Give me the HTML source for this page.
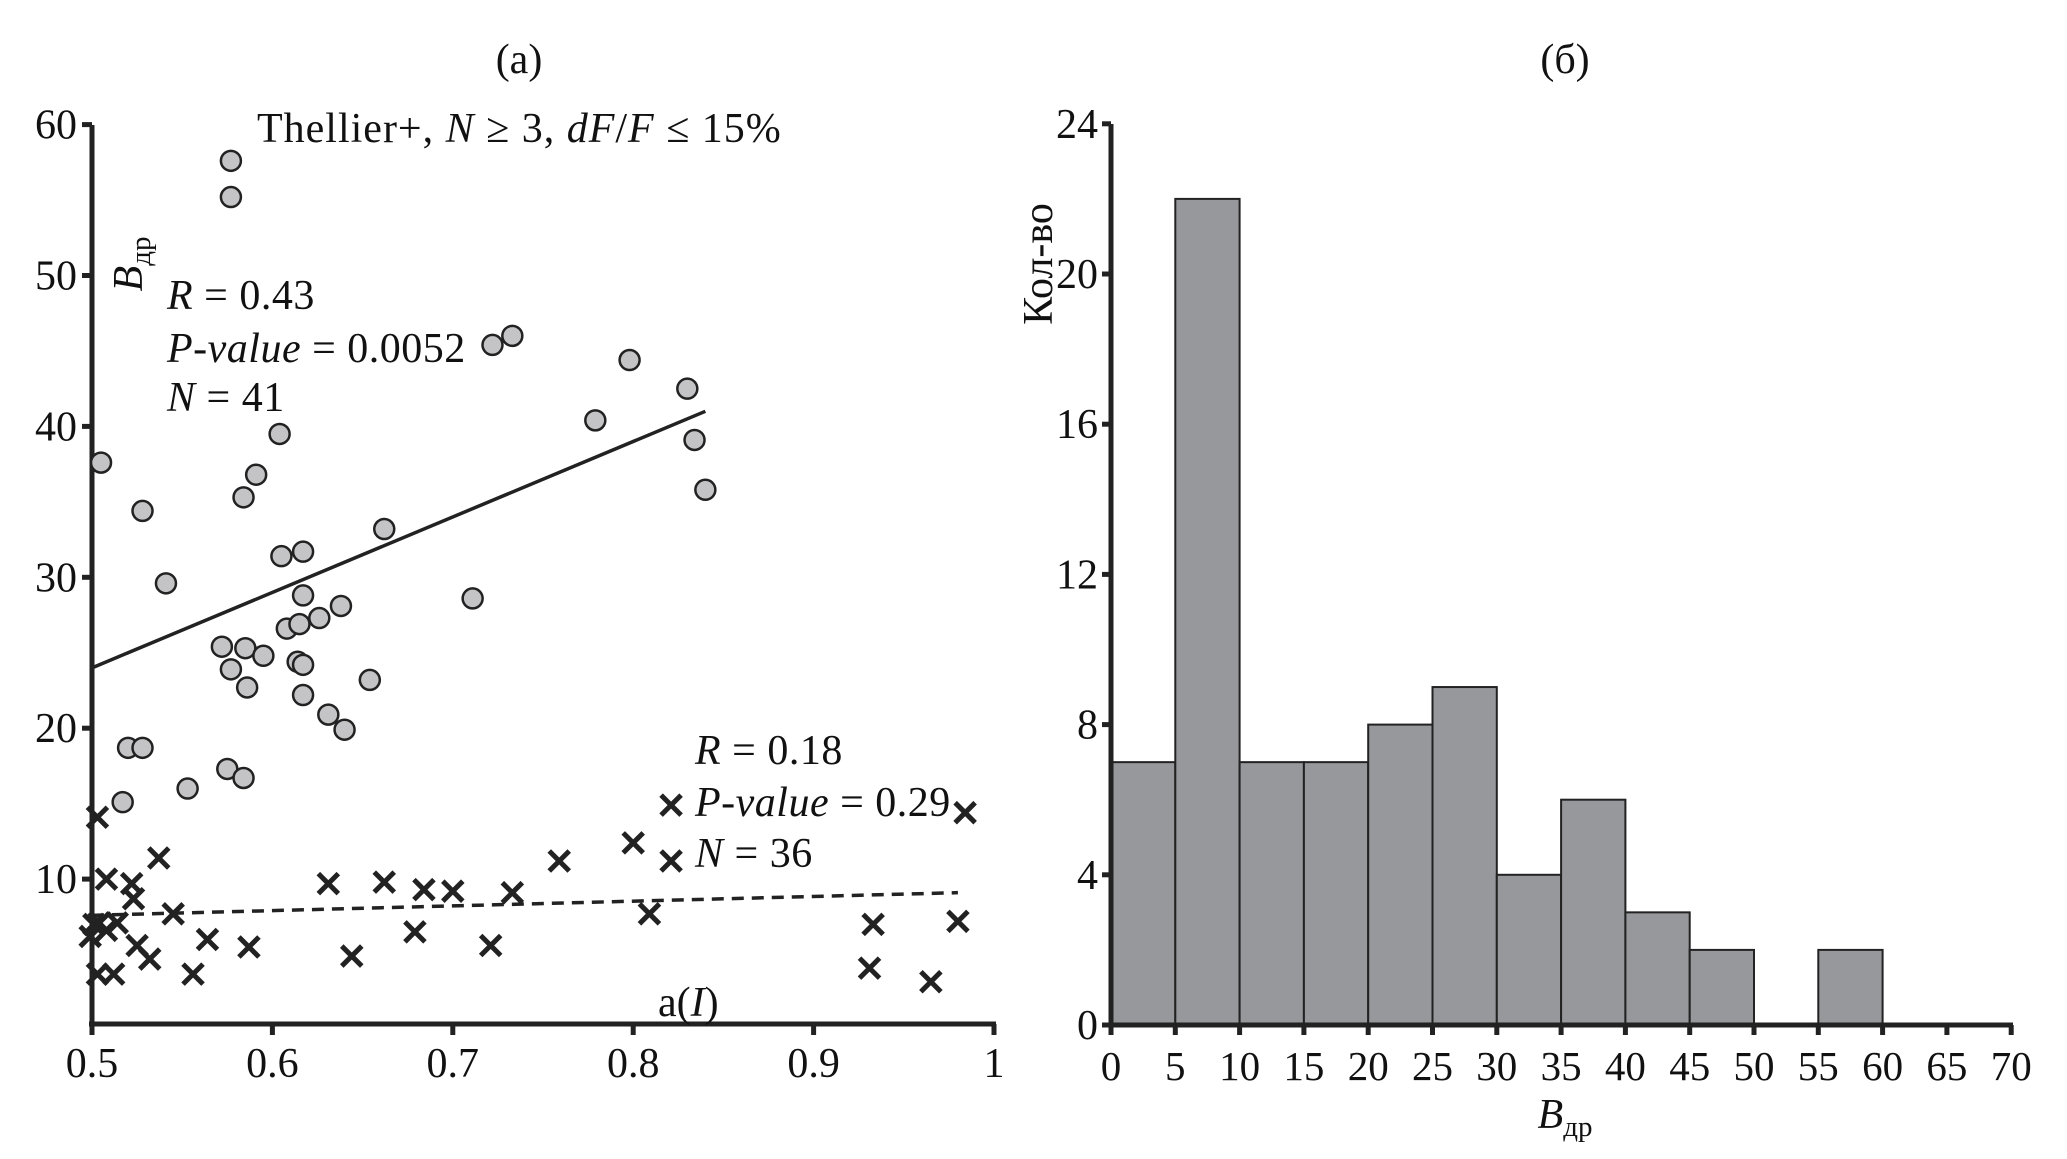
<!DOCTYPE html>
<html><head><meta charset="utf-8">
<style>
html,body{margin:0;padding:0;background:#fff;}
svg{display:block;font-family:"Liberation Serif","DejaVu Serif",serif;}
</style></head>
<body>
<svg id="chart" width="2067" height="1159" viewBox="0 0 2067 1159" xmlns="http://www.w3.org/2000/svg">
<g id="left"></g>
<g id="right"></g>
</svg>
<script>
// ---- Scatter data (panel a) ----
const circleX = [0.577,0.577,0.505,0.528,0.541,0.517,0.520,0.528,0.553,0.575,0.584,0.572,0.577,0.585,0.586,0.595,0.584,0.591,0.604,0.605,0.617,0.617,0.608,0.615,0.626,0.638,0.614,0.617,0.617,0.631,0.640,0.654,0.662,0.711,0.722,0.733,0.779,0.798,0.830,0.834,0.840];
const circleY = [57.6,55.2,37.6,34.4,29.6,15.1,18.7,18.7,16.0,17.3,16.7,25.4,23.9,25.3,22.7,24.8,35.3,36.8,39.5,31.4,31.7,28.8,26.6,26.9,27.3,28.1,24.4,24.2,22.2,20.9,19.9,23.2,33.2,28.6,45.4,46.0,40.4,44.4,42.5,39.1,35.8];
const crossX = [0.503,0.508,0.501,0.504,0.499,0.508,0.514,0.503,0.512,0.522,0.523,0.525,0.532,0.537,0.545,0.556,0.564,0.587,0.631,0.644,0.662,0.679,0.684,0.700,0.721,0.733,0.759,0.800,0.809,0.821,0.821,0.933,0.931,0.965,0.980,0.984];
const crossY = [14.1,10.0,7.0,7.1,6.2,6.6,7.1,3.7,3.7,9.7,8.7,5.6,4.7,11.4,7.7,3.7,6.0,5.5,9.7,4.9,9.8,6.5,9.3,9.2,5.6,9.1,11.2,12.4,7.7,14.9,11.2,7.0,4.1,3.2,7.2,14.4];
const solidFitX = [0.5,0.84];
const solidFitY = [24,41];
const dashFitX = [0.5,0.98];
const dashFitY = [7.6,9.1];
const leftXTicks = [0.5,0.6,0.7,0.8,0.9,1];
const leftXTickLabels = ["0.5","0.6","0.7","0.8","0.9","1"];
const leftYTicks = [10,20,30,40,50,60];
const leftYTickLabels = ["10","20","30","40","50","60"];
// ---- Histogram data (panel б) ----
const binStarts = [0,5,10,15,20,25,30,35,40,45,50,55,60,65];
const binCounts = [7,22,7,7,8,9,4,6,3,2,0,2,0,0];
const rightXTicks = [0,5,10,15,20,25,30,35,40,45,50,55,60,65,70];
const rightYTicks = [0,4,8,12,16,20,24];

const NS="http://www.w3.org/2000/svg";
function mk(parent,tag,attrs,text){const e=document.createElementNS(NS,tag);for(const k in attrs)e.setAttribute(k,attrs[k]);if(text!==undefined)e.textContent=text;parent.appendChild(e);return e;}
const L=document.getElementById('left'), R=document.getElementById('right');
const ink="#222";

const lx=v=>92+(v-0.5)*1804;
const ly=v=>1030-v*15.09;
let e;
e=mk(L,'line',{x1:92,y1:125,x2:92,y2:1027,stroke:ink,'stroke-width':5});


e=mk(L,'line',{x1:89,y1:1024,x2:996,y2:1024,stroke:ink,'stroke-width':5});


leftYTicks.forEach((v,i)=>{
  e=mk(L,'line',{x1:82,y1:ly(v),x2:92,y2:ly(v),stroke:ink,'stroke-width':5});
  
  
  e=mk(L,'text',{x:77,y:ly(v)+14,'font-size':42,'text-anchor':'end',fill:'#111'},leftYTickLabels[i]);
  
  
});
leftXTicks.forEach((v,i)=>{
  e=mk(L,'line',{x1:lx(v),y1:1024,x2:lx(v),y2:1035,stroke:ink,'stroke-width':5});
  
  
  e=mk(L,'text',{x:lx(v),y:1077,'font-size':42,'text-anchor':'middle',fill:'#111'},leftXTickLabels[i]);
  
  
});
e=mk(L,'line',{x1:lx(solidFitX[0]),y1:ly(solidFitY[0]),x2:lx(solidFitX[1]),y2:ly(solidFitY[1]),stroke:ink,'stroke-width':3.5});


e=mk(L,'line',{x1:lx(dashFitX[0]),y1:ly(dashFitY[0]),x2:lx(dashFitX[1]),y2:ly(dashFitY[1]),stroke:ink,'stroke-width':3.5,'stroke-dasharray':'12,8'});


circleX.forEach((v,i)=>{
  e=mk(L,'circle',{cx:lx(v),cy:ly(circleY[i]),r:10,fill:'#c4c4c6',stroke:'#222','stroke-width':2.5});
  
  
});
crossX.forEach((v,i)=>{
  const cx=lx(v),cy=ly(crossY[i]),s=10;
  e=mk(L,'path',{d:`M${cx-s},${cy-s}L${cx+s},${cy+s}M${cx-s},${cy+s}L${cx+s},${cy-s}`,stroke:'#222','stroke-width':5,fill:'none'});
  
  
});

const rx=v=>1111+v*12.86;
const ry=v=>1025-v*37.55;
binStarts.forEach((b,i)=>{
  if(binCounts[i]<=0) return;
  e=mk(R,'rect',{x:rx(b),y:ry(binCounts[i]),width:rx(b+5)-rx(b),height:ry(0)-ry(binCounts[i]),fill:'#97989c',stroke:'#222','stroke-width':2});
  
  
});
e=mk(R,'line',{x1:1111,y1:124,x2:1111,y2:1028,stroke:ink,'stroke-width':5});


e=mk(R,'line',{x1:1104,y1:1025,x2:2013,y2:1025,stroke:ink,'stroke-width':5});


rightYTicks.forEach(v=>{
  e=mk(R,'line',{x1:1102,y1:ry(v),x2:1111,y2:ry(v),stroke:ink,'stroke-width':5});
  
  
  e=mk(R,'text',{x:1098,y:ry(v)+14,'font-size':42,'text-anchor':'end',fill:'#111'},String(v));
  
  
});
rightXTicks.forEach(v=>{
  e=mk(R,'line',{x1:rx(v),y1:1025,x2:rx(v),y2:1035,stroke:ink,'stroke-width':5});
  
  
  e=mk(R,'text',{x:rx(v),y:1080,'font-size':41,'text-anchor':'middle',fill:'#111'},String(v));
  
  
});
</script>
<div style="position:absolute;left:0;top:0;width:2067px;height:1159px;pointer-events:none;">
<svg width="2067" height="1159" style="font-family:'Liberation Serif','DejaVu Serif',serif;">
<text x="519" y="73" font-size="42" text-anchor="middle" fill="#111">(a)</text>
<text x="1565" y="73" font-size="42" text-anchor="middle" fill="#111">(б)</text>
<text x="257" y="142" font-size="42" letter-spacing="1" fill="#111">Thellier+, <tspan font-style="italic">N</tspan> ≥ 3, <tspan font-style="italic">dF</tspan>/<tspan font-style="italic">F</tspan> ≤ 15%</text>
<text transform="translate(142,264) rotate(-90)" font-size="42" text-anchor="middle" fill="#111"><tspan font-style="italic">B</tspan><tspan font-size="29" dy="8">др</tspan></text>
<g font-size="42" letter-spacing="0.5" fill="#111">
<text x="167" y="309"><tspan font-style="italic">R</tspan> = 0.43</text>
<text x="167" y="362"><tspan font-style="italic">P-value</tspan> = 0.0052</text>
<text x="167" y="411"><tspan font-style="italic">N</tspan> = 41</text>
</g>
<g font-size="42" letter-spacing="0.5" fill="#111">
<text x="695" y="764"><tspan font-style="italic">R</tspan> = 0.18</text>
<text x="695" y="816"><tspan font-style="italic">P-value</tspan> = 0.29</text>
<text x="695" y="867"><tspan font-style="italic">N</tspan> = 36</text>
</g>
<text x="658" y="1016" font-size="42" fill="#111">a(<tspan font-style="italic">I</tspan>)</text>
<text transform="translate(1052,264) rotate(-90)" font-size="42" text-anchor="middle" fill="#111">Кол-во</text>
<text x="1565" y="1128" font-size="42" text-anchor="middle" fill="#111"><tspan font-style="italic">B</tspan><tspan font-size="29" dy="8">др</tspan></text>
</svg>
</div>
</body></html>
